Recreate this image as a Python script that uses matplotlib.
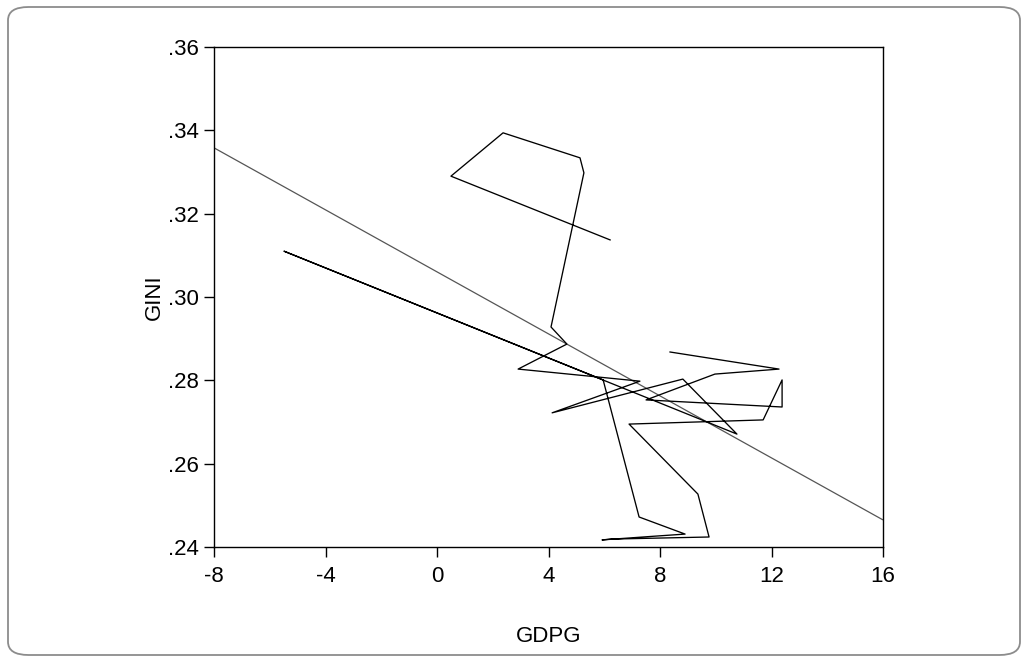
import numpy as np
import matplotlib
matplotlib.use("Agg")
import matplotlib.pyplot as plt
from matplotlib.patches import FancyBboxPatch

# Data (chronological path)
gdpg = [8.36, 12.27, 9.97, 7.50, 12.38, 12.38, 11.70, 6.89, 9.36, 9.76,
        6.25, 5.92, 7.60, 8.90, 7.25, 5.96, -5.49, 10.76, 8.82, 4.13,
        7.28, 2.91, 4.66, 4.09, 5.27, 5.13, 2.37, 0.50, 6.21]
gini = [0.2868, 0.2827, 0.2815, 0.2753, 0.2736, 0.2801, 0.2705, 0.2695, 0.2527, 0.2424,
        0.2419, 0.2417, 0.2425, 0.2431, 0.2472, 0.2801, 0.3110, 0.2671, 0.2803, 0.2722,
        0.2798, 0.2827, 0.2887, 0.2928, 0.3298, 0.3334, 0.3394, 0.3290, 0.3137]

# fitted line (value at x=-8 and x=16)
fit_x = [-8, 16]
fit_y = [0.3358, 0.2465]

x_ticks = [-8, -4, 0, 4, 8, 12, 16]
y_ticks = [0.24, 0.26, 0.28, 0.30, 0.32, 0.34, 0.36]
y_tick_labels = [".24", ".26", ".28", ".30", ".32", ".34", ".36"]

plt.rcParams['font.family'] = ['Liberation Sans', 'DejaVu Sans']

fig = plt.figure(figsize=(10.27, 6.62), dpi=100)
fig.patch.set_facecolor('white')

ax = fig.add_axes([214 / 1027, 115 / 662, 669 / 1027, 500 / 662])
ax.set_facecolor('white')

border = FancyBboxPatch((8 / 1027, 7 / 662), 1012 / 1027, 648 / 662,
                        boxstyle="round,pad=0,rounding_size=0.02",
                        transform=fig.transFigure, facecolor='none',
                        edgecolor='#8c8c8c', linewidth=1.3, zorder=-1)
fig.patches.append(border)

ax.plot(fit_x, fit_y, color='#555555', linewidth=0.9, solid_capstyle='butt')
ax.plot(gdpg, gini, color='black', linewidth=0.95)

ax.set_xlim(-8, 16)
ax.set_ylim(0.24, 0.36)
ax.set_xticks(x_ticks)
ax.set_xticklabels([str(v) for v in x_ticks])
ax.set_yticks(y_ticks)
ax.set_yticklabels(y_tick_labels)
ax.tick_params(axis='x', direction='out', length=7, width=1.0, labelsize=16, colors='black', pad=7)
ax.tick_params(axis='y', direction='out', length=7, width=1.0, labelsize=16, colors='black', pad=4)
for s in ax.spines.values():
    s.set_linewidth(1.0)
    s.set_color('black')

ax.set_xlabel("GDPG", fontsize=16, labelpad=28)
ax.set_ylabel("GINI", fontsize=16, labelpad=2)

fig.savefig("out.png", dpi=100, facecolor='white')
